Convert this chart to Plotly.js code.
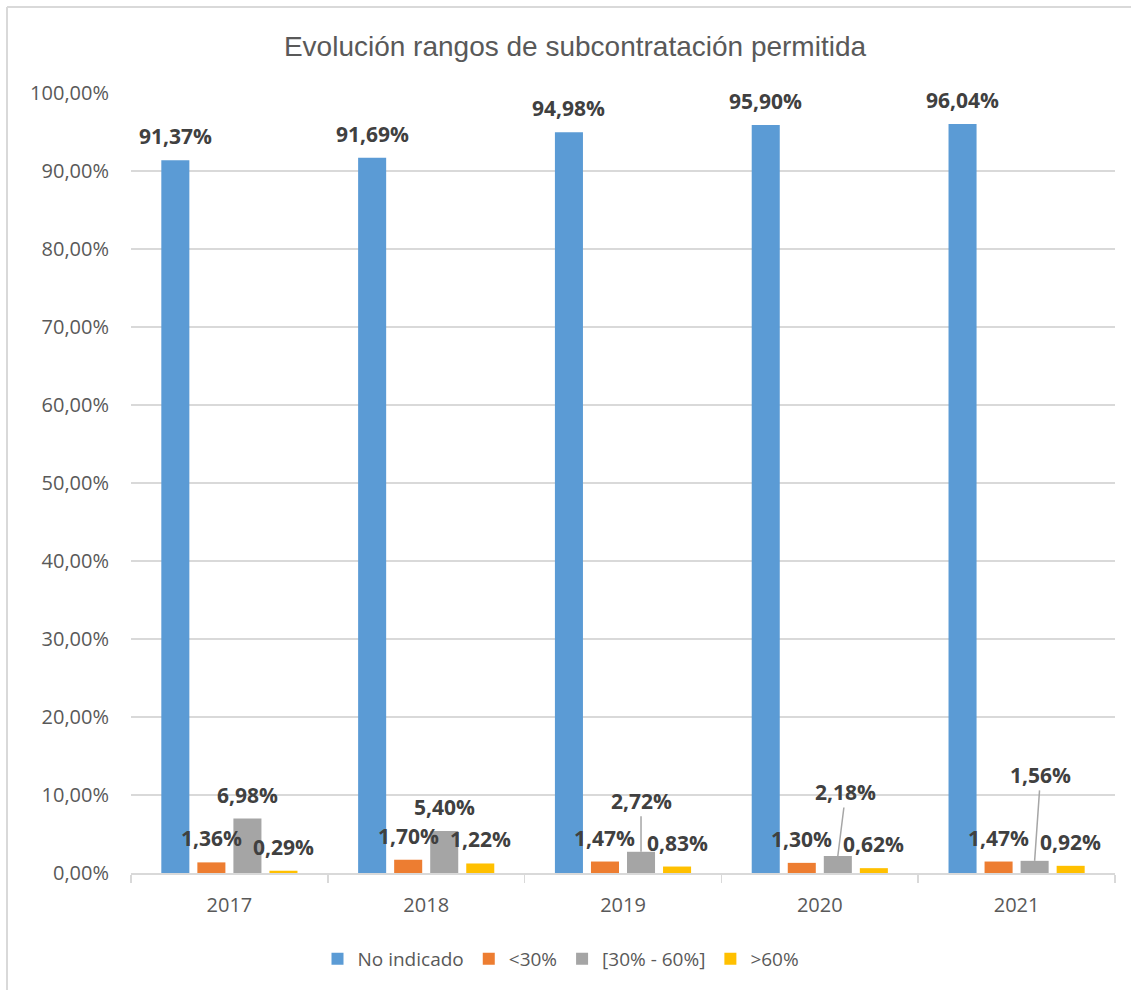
<!DOCTYPE html>
<html>
<head>
<meta charset="utf-8">
<script src="https://cdn.plot.ly/plotly-3.0.1.min.js"></script>
<style>html,body{margin:0;padding:0;background:#fff;}</style>
</head>
<body>
<div id="chart" style="width:1131px;height:990px;"></div>
<script>
// ---- data ----
const years = ['2017', '2018', '2019', '2020', '2021'];
const noIndicado = [0.9137, 0.9169, 0.9498, 0.9590, 0.9604];
const menos30 = [0.0136, 0.0170, 0.0147, 0.0130, 0.0147];
const entre30y60 = [0.0698, 0.0540, 0.0272, 0.0218, 0.0156];
const mas60 = [0.0029, 0.0122, 0.0083, 0.0062, 0.0092];
const seriesNames = ['No indicado', '<30%', '[30% - 60%]', '>60%'];
const titleText = 'Evolución rangos de subcontratación permitida';

// ---- styles ----
const colors = ['#5B9BD5', '#ED7D31', '#A5A5A5', '#FFC000'];
const BARGAP = 0.2675, BARGROUPGAP = 0.222;
const labelFont = {family: 'Open Sans, sans-serif', size: 21, color: '#404040', weight: 700};
// displaced labels with leader lines: key "series,index" -> [dx, dy] in px
const leaderOffsets = {'2,2': [0, -51], '2,3': [8, -64], '2,4': [6, -86]};

const allSeries = [noIndicado, menos30, entre30y60, mas60];
const fmt = v => (v * 100).toFixed(2).replace('.', ',') + '%';

const traces = allSeries.map((vals, s) => ({
  type: 'bar',
  name: seriesNames[s],
  x: years,
  y: vals,
  marker: {color: colors[s]},
  hoverinfo: 'x+y+name'
}));

const annotations = [];
const nS = allSeries.length;
allSeries.forEach((vals, s) => {
  const off = (s - (nS - 1) / 2) * (1 - BARGAP) / nS;
  vals.forEach((v, i) => {
    const key = s + ',' + i;
    const base = {
      x: i + off, y: v, xref: 'x', yref: 'y',
      text: '<b>' + fmt(v) + '</b>',
      font: labelFont
    };
    if (leaderOffsets[key]) {
      annotations.push(Object.assign(base, {
        showarrow: true, arrowhead: 0, arrowwidth: 1.5, arrowcolor: '#a6a6a6',
        ax: leaderOffsets[key][0], ay: leaderOffsets[key][1], standoff: 0
      }));
    } else {
      annotations.push(Object.assign(base, {showarrow: false, yshift: 24}));
    }
  });
});

const W = 1131, H = 990;
const mL = 131, mR = 16, mT = 93, mB = 117;
const pw = W - mL - mR, ph = H - mT - mB;
const px2x = p => (p - mL) / pw;
const py2y = p => (H - mB - p) / ph;

const layout = {
  width: W, height: H,
  margin: {l: mL, r: mR, t: mT, b: mB},
  paper_bgcolor: '#ffffff', plot_bgcolor: '#ffffff',
  separators: ',.',
  font: {family: 'Open Sans, sans-serif', color: '#595959'},
  title: {
    text: titleText,
    font: {family: 'Liberation Sans, Arial, sans-serif', size: 28, color: '#595959'},
    xref: 'container', x: 575 / W, xanchor: 'center',
    yref: 'container', y: 1 - 46 / H, yanchor: 'middle'
  },
  barmode: 'group', bargap: BARGAP, bargroupgap: BARGROUPGAP,
  xaxis: {
    type: 'category',
    showline: true, linecolor: '#d9d9d9', linewidth: 1.5,
    ticks: 'outside', tickson: 'boundaries', ticklen: 8, tickcolor: '#d9d9d9', tickwidth: 1.5,
    tickfont: {size: 20, color: '#595959'},
    ticklabelstandoff: 13,
    showgrid: false, zeroline: false
  },
  yaxis: {
    range: [0, 1], dtick: 0.1, tickformat: '.2%',
    showgrid: true, gridcolor: '#d9d9d9', gridwidth: 1.5,
    zeroline: false, showline: false, ticks: '',
    tickfont: {size: 20, color: '#595959'},
    ticklabelstandoff: 21
  },
  showlegend: true,
  legend: {
    orientation: 'h',
    xref: 'container', x: 561 / W, xanchor: 'center',
    yref: 'container', y: 1 - 959 / H, yanchor: 'middle',
    font: {size: 19, color: '#595959'},
    bgcolor: 'rgba(0,0,0,0)'
  },
  annotations: annotations,
  shapes: [
    {type: 'line', xref: 'paper', yref: 'paper', x0: px2x(7), x1: px2x(7), y0: py2y(7), y1: py2y(1000),
     line: {color: '#d9d9d9', width: 2}},
    {type: 'line', xref: 'paper', yref: 'paper', x0: px2x(7), x1: px2x(1140), y0: py2y(7), y1: py2y(7),
     line: {color: '#d9d9d9', width: 2}}
  ]
};

Plotly.newPlot('chart', traces, layout, {displayModeBar: false, staticPlot: true});
</script>
</body>
</html>
